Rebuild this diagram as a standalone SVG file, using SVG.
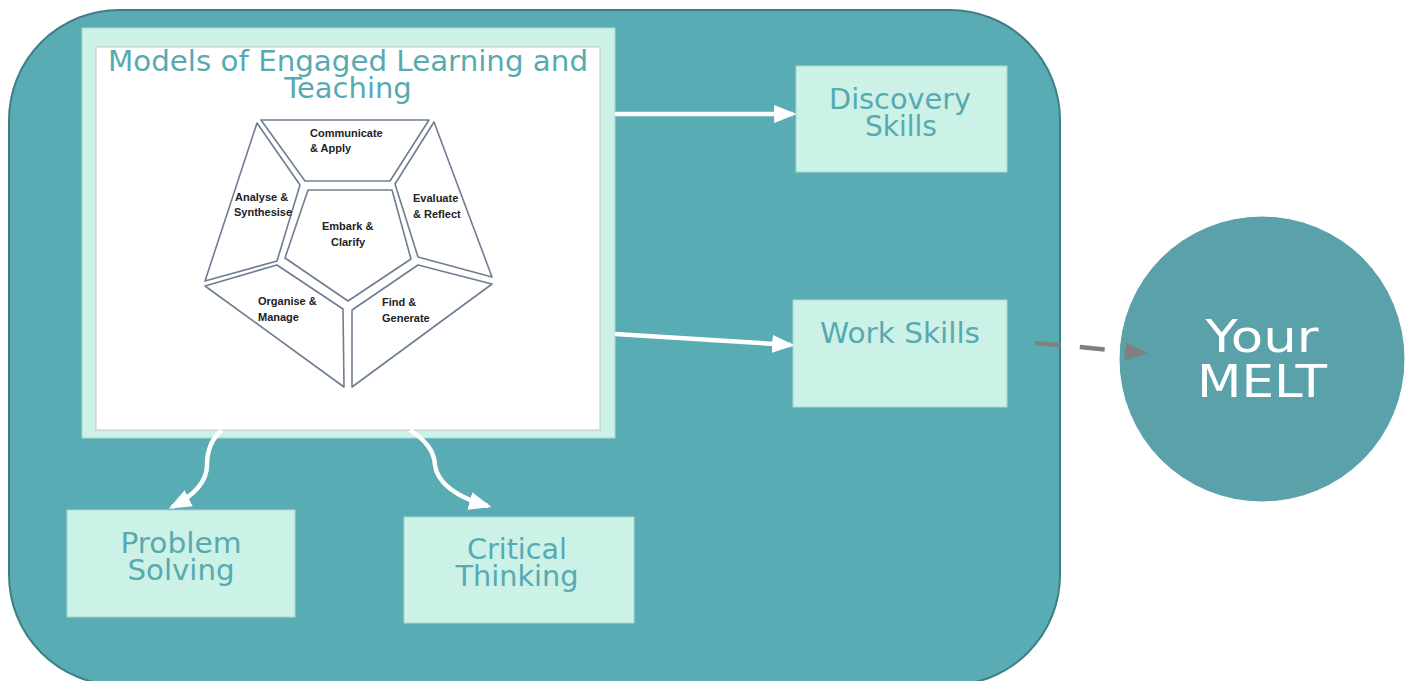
<svg xmlns="http://www.w3.org/2000/svg" width="1412" height="681" viewBox="0 0 1412 681">
<style>
.lbl{font-family:"DejaVu Sans","Liberation Sans",sans-serif;fill:#57aab2;text-anchor:middle}
.box{fill:#ccf1e6;stroke:#a9d6cf;stroke-width:1}
.pc{fill:#ffffff;stroke:#6f7d92;stroke-width:1.6;stroke-linejoin:round}
.pt{font-family:"Liberation Sans",Arial,sans-serif;font-weight:bold;font-size:11px;fill:#222}
.wl{fill:none;stroke:#ffffff;stroke-width:4.5}
.mt{font-family:"DejaVu Sans","Liberation Sans",sans-serif;font-size:45px;fill:#ffffff;text-anchor:middle}
</style>
<defs>
<marker id="wa" markerWidth="5" markerHeight="4" refX="4.2" refY="2" orient="auto" markerUnits="strokeWidth">
<path d="M0,0 L5,2 L0,4 Z" fill="#ffffff"/>
</marker>
<marker id="ga" markerWidth="5" markerHeight="4" refX="4.2" refY="2" orient="auto" markerUnits="strokeWidth">
<path d="M0,0 L5,2 L0,4 Z" fill="#808080"/>
</marker>
</defs>
<rect width="1412" height="681" fill="#ffffff"/>
<g id="container">
<rect x="9" y="10" width="1051" height="675" rx="110" ry="110" fill="#59acb4" stroke="#3e7f86" stroke-width="2"/>
</g>
<g id="melt-model">
<rect x="82" y="28" width="533" height="410" class="box"/>
<rect x="96" y="47" width="504" height="383" fill="#ffffff" stroke="#c4c4c4" stroke-width="1"/>
<text class="lbl" x="348" y="71" font-size="29" textLength="480" lengthAdjust="spacingAndGlyphs">Models of Engaged Learning and</text>
<text class="lbl" x="348" y="98" font-size="29">Teaching</text>
<polygon class="pc" points="261,120 429,120 390,181 305,181"/>
<polygon class="pc" points="257,123 300,185 277,261 205,281"/>
<polygon class="pc" points="434,122 492,277 418,257 395,184"/>
<polygon class="pc" points="308,190 392,190 411,259 348,301 285,258"/>
<polygon class="pc" points="205,286 277,265 343,309 344,387"/>
<polygon class="pc" points="352,310 418,265 492,284 352,387"/>
<text class="pt" x="310" y="137">Communicate</text>
<text class="pt" x="310" y="152">&amp; Apply</text>
<text class="pt" x="235" y="201">Analyse &amp;</text>
<text class="pt" x="234" y="216">Synthesise</text>
<text class="pt" x="322" y="230">Embark &amp;</text>
<text class="pt" x="331" y="246">Clarify</text>
<text class="pt" x="413" y="202">Evaluate</text>
<text class="pt" x="413" y="218">&amp; Reflect</text>
<text class="pt" x="258" y="305">Organise &amp;</text>
<text class="pt" x="258" y="321">Manage</text>
<text class="pt" x="382" y="306">Find &amp;</text>
<text class="pt" x="382" y="322">Generate</text>
</g>
<g id="discovery-skills">
<rect x="796" y="66" width="211" height="106" class="box"/>
<text class="lbl" x="900" y="109" font-size="28" textLength="142" lengthAdjust="spacingAndGlyphs">Discovery</text>
<text class="lbl" x="901" y="136" font-size="28">Skills</text>
</g>
<g id="work-skills">
<rect x="793" y="300" width="214" height="107" class="box"/>
<text class="lbl" x="900" y="343" font-size="28" textLength="160" lengthAdjust="spacingAndGlyphs">Work Skills</text>
</g>
<g id="problem-solving">
<rect x="67" y="510" width="228" height="107" class="box"/>
<text class="lbl" x="181" y="553" font-size="28" textLength="121" lengthAdjust="spacingAndGlyphs">Problem</text>
<text class="lbl" x="181" y="580" font-size="28" textLength="107" lengthAdjust="spacingAndGlyphs">Solving</text>
</g>
<g id="critical-thinking">
<rect x="404" y="517" width="230" height="106" class="box"/>
<text class="lbl" x="517" y="559" font-size="28" textLength="100" lengthAdjust="spacingAndGlyphs">Critical</text>
<text class="lbl" x="517" y="586" font-size="28" textLength="123" lengthAdjust="spacingAndGlyphs">Thinking</text>
</g>
<g id="your-melt">
<circle cx="1262" cy="359" r="143" fill="#5ba1a9" stroke="#ffffff" stroke-width="1"/>
<text class="mt" x="1262" y="352" textLength="113" lengthAdjust="spacingAndGlyphs">Your</text>
<text class="mt" x="1262" y="397" textLength="130" lengthAdjust="spacingAndGlyphs">MELT</text>
</g>
<g id="connectors">
<path class="wl" d="M615,114 L793,114" marker-end="url(#wa)"/>
<path class="wl" d="M615,334 L791,345" marker-end="url(#wa)"/>
<path class="wl" d="M222,430 C210,440 207,452 207,465 C207,482 195,495 172,507" marker-end="url(#wa)"/>
<path class="wl" d="M410,430 C425,440 434,450 435,465 C437,482 455,497 488,506" marker-end="url(#wa)"/>
<path d="M1035,343 L1144,353" fill="none" stroke="#808080" stroke-width="4.5" stroke-dasharray="25,20" marker-end="url(#ga)"/>
</g>
</svg>
